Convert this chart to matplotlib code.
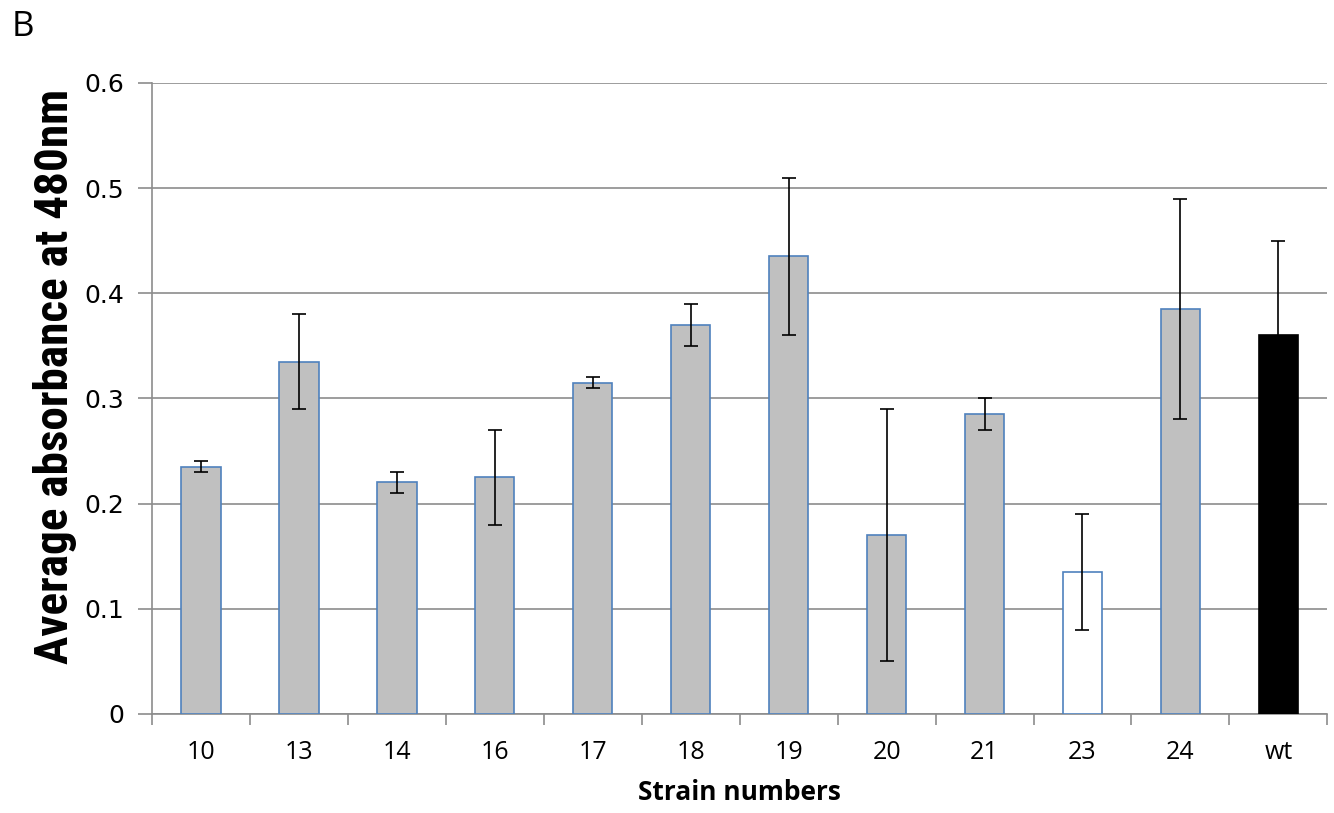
import matplotlib.pyplot as plt
import numpy as np

# data
strains = ['10', '13', '14', '16', '17', '18', '19', '20', '21', '23', '24', 'wt']
absorb = [0.235, 0.335, 0.22, 0.225, 0.315, 0.37, 0.435, 0.17, 0.285, 0.135, 0.385, 0.36]
err = [0.005, 0.045, 0.01, 0.045, 0.005, 0.02, 0.075, 0.12, 0.015, 0.055, 0.105, 0.09]
fills = ['#c0c0c0'] * 9 + ['white', '#c0c0c0', 'black']
edges = ['#4f81bd'] * 11 + ['black']

fig = plt.figure(figsize=(13.34, 8.13), dpi=100)
ax = fig.add_axes([0.114, 0.122, 0.881, 0.776])

x = np.arange(len(strains))
ax.bar(x, absorb, width=0.4, color=fills, edgecolor=edges, linewidth=1.2, zorder=3)
ax.errorbar(x, absorb, yerr=err, fmt='none', ecolor='black', elinewidth=1.2,
            capsize=5, capthick=1.2, zorder=4)

ax.set_xlim(-0.5, len(strains) - 0.5)
ax.set_ylim(0, 0.6)
ax.set_yticks(np.arange(0, 0.61, 0.1))
ax.set_yticklabels(['0', '0.1', '0.2', '0.3', '0.4', '0.5', '0.6'])
ax.yaxis.grid(True, color='#8c8c8c', linewidth=1.2, zorder=0)

# x ticks between categories, labels centered
ax.set_xticks(np.arange(-0.5, len(strains), 1))
ax.set_xticklabels([])
ax.set_xticks(x, minor=True)
ax.set_xticklabels(strains, minor=True, fontsize=18, family=['Open Sans', 'DejaVu Sans'])
ax.tick_params(axis='x', which='minor', length=0, pad=19)
ax.tick_params(axis='x', which='major', length=8, color='#8c8c8c', width=1.2)
ax.tick_params(axis='y', length=10, color='#8c8c8c', width=1.2, labelsize=18, pad=10)

for s in ['top', 'right']:
    ax.spines[s].set_visible(False)
for s in ['left', 'bottom']:
    ax.spines[s].set_color('#8c8c8c')
    ax.spines[s].set_linewidth(1.2)

ax.set_ylabel('Average absorbance at 480nm', fontsize=34, fontweight='bold',
              family=['Liberation Sans Narrow', 'Roboto Condensed',
                      'DejaVu Sans Condensed', 'Roboto'])
ax.yaxis.set_label_coords(-0.064, 0.535)
ax.set_xlabel('Strain numbers', fontsize=19, fontweight='bold',
              family=['Open Sans', 'DejaVu Sans'], labelpad=10)

fig.text(0.009, 0.967, 'B', fontsize=25, va='center', ha='left',
         family=['Open Sans', 'DejaVu Sans'])

fig.savefig('out.png', dpi=100)
